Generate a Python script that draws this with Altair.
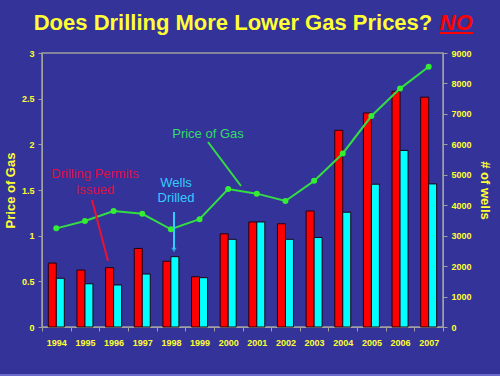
import altair as alt
import pandas as pd

years = [str(y) for y in range(1994, 2008)]
gas_price = [1.08, 1.16, 1.27, 1.24, 1.07, 1.18, 1.51, 1.46, 1.38, 1.60, 1.90, 2.31, 2.61, 2.85]
permits = [2100, 1870, 1950, 2580, 2160, 1650, 3060, 3450, 3390, 3810, 6460, 7030, 7740, 7550]
wells = [1600, 1420, 1380, 1740, 2310, 1620, 2880, 3450, 2880, 2940, 3770, 4690, 5800, 4700]

BG = "#333399"
YELLOW = "#FFFF33"
GREY = "#A0A0A0"
FONT = "Liberation Sans"

bars_df = pd.DataFrame({"year": years, "Drilling Permits Issued": permits, "Wells Drilled": wells}).melt(
    id_vars="year", var_name="series", value_name="count")
gas_df = pd.DataFrame({"year": years, "price": gas_price})

x = alt.X("year:N", title=None, sort=years,
          scale=alt.Scale(paddingInner=0, paddingOuter=0),
          axis=alt.Axis(labelAngle=0, labelColor=YELLOW, labelFont=FONT, labelFontWeight="bold",
                        labelFontSize=9, domainColor=GREY, tickColor=GREY, tickBand="extent",
                        tickSize=4, labelPadding=7))

bars = alt.Chart(bars_df).mark_bar(stroke="#220011", strokeWidth=1).encode(
    x=x,
    xOffset=alt.XOffset("series:N", sort=["Drilling Permits Issued", "Wells Drilled"],
                        scale=alt.Scale(paddingOuter=0.79, paddingInner=0)),
    y=alt.Y("count:Q", scale=alt.Scale(domain=[0, 9000]),
            axis=alt.Axis(orient="right", title="# of wells", values=list(range(0, 9001, 1000)),
                          format="d", titleAngle=90, titleColor=YELLOW, titleFontSize=13, titleFont=FONT,
                          titleFontWeight="bold", titlePadding=6,
                          labelColor=YELLOW, labelFont=FONT, labelFontWeight="bold",
                          labelFontSize=9, labelPadding=4, domainColor=GREY, tickColor=GREY, tickSize=4,
                          grid=False)),
    color=alt.Color("series:N", scale=alt.Scale(domain=["Drilling Permits Issued", "Wells Drilled"],
                                                range=["#FF0000", "#00FFFF"]), legend=None),
)

line = alt.Chart(gas_df).mark_line(color="#33DD44", strokeWidth=2,
                                   point=alt.OverlayMarkDef(color="#33EE33", size=36, filled=True)).encode(
    x=x,
    y=alt.Y("price:Q", scale=alt.Scale(domain=[0, 3]),
            axis=alt.Axis(orient="left", title="Price of Gas", values=[0, 0.5, 1, 1.5, 2, 2.5, 3],
                          format="~r", titleColor=YELLOW, titleFontSize=13, titleFont=FONT,
                          titleFontWeight="bold", titlePadding=4,
                          labelColor=YELLOW, labelFont=FONT, labelFontWeight="bold",
                          labelFontSize=9, labelPadding=4, domainColor=GREY, tickColor=GREY, tickSize=4,
                          grid=False)),
)

# annotations (pixel positions relative to plot area origin at (42,53))
def txt(df, color, size, **kw):
    return alt.Chart(df).mark_text(color=color, fontSize=size, font=FONT, **kw).encode(
        x=alt.X("px:Q", scale=None), y=alt.Y("py:Q", scale=None), text="t:N")

title_df = pd.DataFrame({"px": [191], "py": [-30], "t": ["Does Drilling More Lower Gas Prices?"]})
no_df = pd.DataFrame({"px": [414], "py": [-30], "t": ["NO"]})
gas_lbl = pd.DataFrame({"px": [166], "py": [81], "t": ["Price of Gas"]})
perm_lbl = pd.DataFrame({"px": [53, 53], "py": [121, 137], "t": ["Drilling Permits", "Issued"]})
well_lbl = pd.DataFrame({"px": [134, 134], "py": [130, 145], "t": ["Wells", "Drilled"]})

title_t = txt(title_df, YELLOW, 22, fontWeight="bold")
no_t = txt(no_df, "#FF0000", 22, fontWeight="bold", fontStyle="italic")
no_ul = alt.Chart(pd.DataFrame({"a": [0]})).mark_rule(color="#FF0000", strokeWidth=2).encode(
    x=alt.value(398), x2=alt.value(431), y=alt.value(-20))
gas_t = txt(gas_lbl, "#33DD66", 13)
perm_t = txt(perm_lbl, "#DD1144", 13)
well_t = txt(well_lbl, "#33CCFF", 13)

gas_arrow = alt.Chart(pd.DataFrame({"a": [0]})).mark_rule(color="#33DD44", strokeWidth=2).encode(
    x=alt.value(166), x2=alt.value(199), y=alt.value(89), y2=alt.value(133))
perm_arrow = alt.Chart(pd.DataFrame({"a": [0]})).mark_rule(color="#EE1133", strokeWidth=2).encode(
    x=alt.value(50), x2=alt.value(66), y=alt.value(147), y2=alt.value(208))
well_arrow = alt.Chart(pd.DataFrame({"a": [0]})).mark_rule(color="#33CCFF", strokeWidth=2).encode(
    x=alt.value(132), x2=alt.value(132), y=alt.value(159), y2=alt.value(196))
well_head = alt.Chart(pd.DataFrame({"a": [0]})).mark_point(shape="triangle-down", filled=True,
                                                           color="#33CCFF", size=30).encode(
    x=alt.value(132), y=alt.value(197))
bottom_line = alt.Chart(pd.DataFrame({"a": [0]})).mark_rule(color="#6A6ACC", strokeWidth=2).encode(
    x=alt.value(-42), x2=alt.value(458), y=alt.value(322))

chart = alt.layer(
    bars, line,
    title_t, no_t, no_ul, gas_t, perm_t, well_t, gas_arrow, perm_arrow, well_arrow, well_head, bottom_line
).resolve_scale(y="independent").properties(
    width=401, height=274,
    background=BG,
    padding={"left": 42, "top": 53, "right": 57, "bottom": 49},
    autosize=alt.AutoSizeParams(type="none"),
).configure_view(stroke=GREY, strokeWidth=1.5)

chart.save("out.html", embed_options={"renderer": "svg", "actions": False})
